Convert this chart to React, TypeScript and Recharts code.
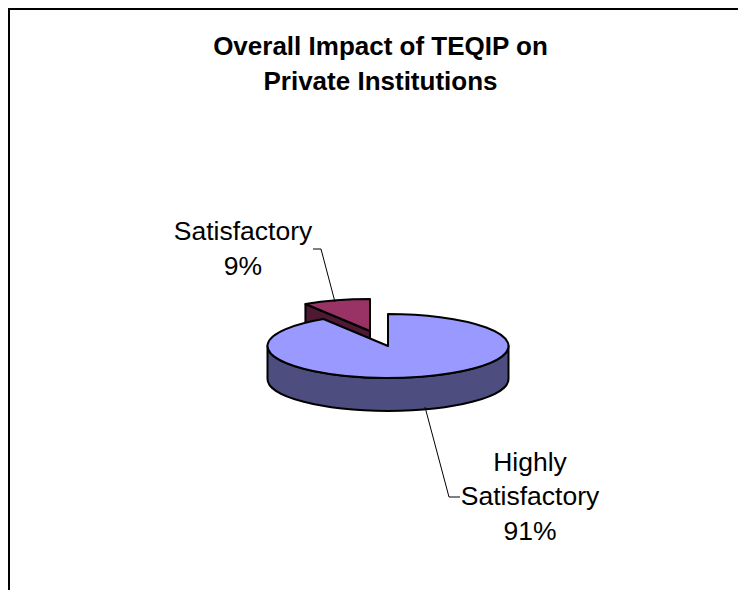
import { PieChart, Pie } from 'recharts';

const categories = ['Satisfactory', 'Highly Satisfactory'];
const shares = [9, 91];
const titleLines = ['Overall Impact of TEQIP on', 'Private Institutions'];

const chartData = categories.map((name, i) => ({ name, value: shares[i] }));

const FONT = '"Liberation Sans", Arial, sans-serif';
const CX = 388;
const CY = 346;
const RX = 120.5;
const SQUASH = 0.265;
const DEPTH = 33;
// pie starts at 12 o'clock with the blue slice going clockwise, so the small one comes first and draws behind it
const START_ANGLE = 90 + (360 * shares[0]) / 100;

const SLICE_STYLE: Record<string, { top: string; side: string; dx: number; dy: number }> = {
  Satisfactory: { top: '#993366', side: '#4d1933', dx: -18, dy: -15 },
  'Highly Satisfactory': { top: '#9999ff', side: '#4d4d80', dx: 0, dy: 0 },
};

const LABELS: Record<string, { x: number; lines: string[]; baselines: number[]; leader: string }> = {
  Satisfactory: {
    x: 243,
    lines: ['Satisfactory', '9%'],
    baselines: [240, 274.5],
    leader: 'M313 249 L321 249 L335 302',
  },
  'Highly Satisfactory': {
    x: 530,
    lines: ['Highly', 'Satisfactory', '91%'],
    baselines: [470.5, 505, 540],
    leader: 'M425 407 L449 497 L460 497',
  },
};

function Slice3D(props: any) {
  const { cx, cy, outerRadius: rx, startAngle, endAngle, name } = props;
  const style = SLICE_STYLE[name];
  const ox = cx + style.dx;
  const oy = cy + style.dy;
  const ry = rx * SQUASH;
  const px = (a: number) => ox + rx * Math.cos((a * Math.PI) / 180);
  const py = (a: number) => oy - ry * Math.sin((a * Math.PI) / 180);
  const large = Math.abs(startAngle - endAngle) > 180 ? 1 : 0;
  const top = `M${ox} ${oy} L${px(startAngle)} ${py(startAngle)} A${rx} ${ry} 0 ${large} 1 ${px(endAngle)} ${py(endAngle)} Z`;
  const common = { stroke: '#000', strokeWidth: 2, strokeLinejoin: 'round' as const };

  // cut face along the slice's first edge, only seen when that edge points left
  const showFace = Math.cos((startAngle * Math.PI) / 180) < -0.01;
  const face = `M${ox} ${oy} L${px(startAngle)} ${py(startAngle)} L${px(startAngle)} ${py(startAngle) + DEPTH} L${ox} ${oy + DEPTH} Z`;

  // rim wall only along the front half
  const showWall = startAngle - endAngle > 180;
  const wall = `M${ox - rx} ${oy} A${rx} ${ry} 0 0 0 ${ox + rx} ${oy} L${ox + rx} ${oy + DEPTH} A${rx} ${ry} 0 0 1 ${ox - rx} ${oy + DEPTH} Z`;

  return (
    <g>
      {showFace && <path d={face} fill={style.side} {...common} />}
      {showWall && <path d={wall} fill={style.side} {...common} />}
      <path d={top} fill={style.top} {...common} />
    </g>
  );
}

function SliceLabel(props: any) {
  const label = LABELS[props.name];
  return (
    <text textAnchor="middle" fontFamily={FONT} fontSize={26.5} fill="#000">
      {label.lines.map((line, i) => (
        <tspan key={line} x={label.x} y={label.baselines[i]}>
          {line}
        </tspan>
      ))}
    </text>
  );
}

function SliceLeader(props: any) {
  const name = props.name ?? props.payload?.name;
  return <path d={LABELS[name].leader} fill="none" stroke="#000" strokeWidth={1} />;
}

export default function App() {
  return (
    <div style={{ position: 'fixed', left: 0, top: 0, width: 738, height: 590, background: '#fff', overflow: 'hidden' }}>
      <div style={{ position: 'absolute', left: 8, top: 8, right: 0, bottom: 0, borderLeft: '2px solid #000', borderTop: '2px solid #000' }} />
      <PieChart width={738} height={590} margin={{ top: 0, right: 0, bottom: 0, left: 0 }} style={{ position: 'absolute', left: 0, top: 0 }}>
        <text textAnchor="middle" fontFamily={FONT} fontSize={26} fontWeight="bold" fill="#000">
          <tspan x={380.5} y={55}>{titleLines[0]}</tspan>
          <tspan x={380.5} y={90}>{titleLines[1]}</tspan>
        </text>
        <Pie
          data={chartData}
          dataKey="value"
          nameKey="name"
          cx={CX}
          cy={CY}
          innerRadius={0}
          outerRadius={RX}
          startAngle={START_ANGLE}
          endAngle={START_ANGLE - 360}
          paddingAngle={0}
          shape={Slice3D}
          label={SliceLabel}
          labelLine={SliceLeader}
          isAnimationActive={false}
        />
      </PieChart>
    </div>
  );
}
